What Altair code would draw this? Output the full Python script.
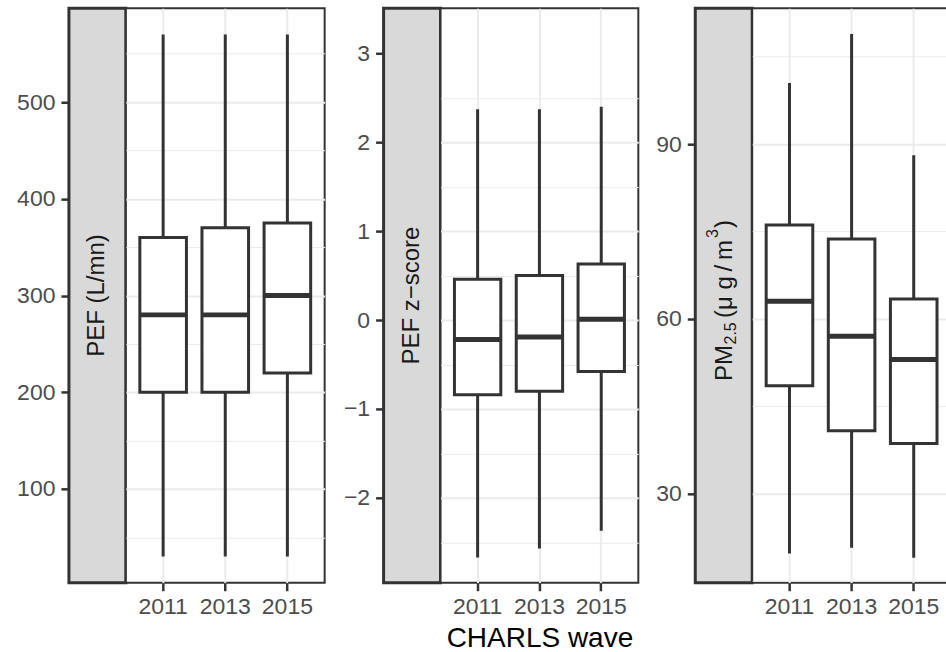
import altair as alt
import pandas as pd

waves = ["2011", "2013", "2015"]

# PEF (L/mn): whisker low, Q1, median, Q3, whisker high
pef_low = [30, 30, 30]
pef_q1 = [200, 200, 220]
pef_med = [280, 280, 300]
pef_q3 = [360, 370, 375]
pef_high = [570, 570, 570]

# PEF z-score
z_low = [-2.67, -2.57, -2.37]
z_q1 = [-0.84, -0.80, -0.58]
z_med = [-0.22, -0.19, 0.01]
z_q3 = [0.46, 0.50, 0.63]
z_high = [2.37, 2.37, 2.40]

# PM2.5
pm_low = [19.7, 20.7, 19.0]
pm_q1 = [48.5, 40.8, 38.6]
pm_med = [63.0, 57.0, 53.0]
pm_q3 = [76.1, 73.7, 63.4]
pm_high = [100.5, 108.9, 88.1]

strip_labels = ["PEF (L/mn)", "PEF z\u2212score"]
# PM2.5 label pieces: text, font size, offset along the text, baseline shift
pm_label_text = ["PM", "2.5", "(\u03bc g\u2009/\u2009m", "3", ")"]
pm_label_size = [24, 16, 24, 16, 24]
pm_label_dx = [0, 36.5, 63, 143, 153]
pm_label_dy = [0, 4, 0, -14, 0]

pef_domain = [3, 597]
z_domain = [-2.955, 3.506]
pm_domain = [14.7, 113.3]

pef_ticks = [100, 200, 300, 400, 500]
z_ticks = [-2, -1, 0, 1, 2, 3]
pm_ticks = [30, 60, 90]

pef_grid = [50, 100, 150, 200, 250, 300, 350, 400, 450, 500, 550]
z_grid = [-2.5, -2, -1.5, -1, -0.5, 0, 0.5, 1, 1.5, 2, 2.5]
pm_grid = [15, 30, 45, 60, 75, 90, 105]

DARK = "#333333"
FONT = "Liberation Sans"
H = 575
STRIP_W = 57


def strip_text_layers(label):
    if label is not None:
        return [alt.Chart(pd.DataFrame({"label": [label]})).mark_text(
            angle=270, fontSize=24, color="#1a1a1a", font=FONT).encode(
            text="label:N", x=alt.value(STRIP_W / 2), y=alt.value(H / 2))]
    layers = []
    for t, fs, dx, dy in zip(pm_label_text, pm_label_size, pm_label_dx, pm_label_dy):
        layers.append(alt.Chart(pd.DataFrame({"label": [t]})).mark_text(
            angle=270, fontSize=fs, color="#1a1a1a", font=FONT, align="left",
            baseline="alphabetic", dx=dx, dy=dy).encode(
            text="label:N", x=alt.value(36.5), y=alt.value(373)))
    return layers


def panel(low, q1, med, q3, high, domain, ticks, grid, major_test, label, box_w,
          extent=None, title=None):
    df = pd.DataFrame({"wave": waves, "low": low, "q1": q1, "med": med, "q3": q3, "high": high})
    yscale = alt.Scale(domain=domain, nice=False, zero=False)

    axis_kw = dict(values=ticks, format="d", grid=False, domain=False, ticks=True,
                   tickSize=8, tickWidth=2.5, tickColor=DARK, labelFontSize=23,
                   labelColor="#4d4d4d", labelPadding=6, title=None)
    if extent is not None:
        axis_kw.update(minExtent=extent, maxExtent=extent)
    strip_axis = alt.Axis(**axis_kw)
    base_strip = alt.Chart(df).mark_rule(opacity=0).encode(
        y=alt.Y("high:Q", scale=yscale, axis=strip_axis))
    strip = alt.layer(base_strip, *strip_text_layers(label)).properties(
        width=STRIP_W, height=H,
        view=alt.ViewBackground(fill="#d9d9d9", stroke=DARK, strokeWidth=3))

    xaxis_kw = dict(labelAngle=0, bandPosition=0.5, grid=True, gridColor="#ebebeb", gridWidth=2,
                    domain=False, ticks=True, tickSize=8, tickWidth=2.5, tickColor=DARK,
                    labelFontSize=23, labelColor="#4d4d4d", labelPadding=4.5,
                    title=title)
    if title is not None:
        xaxis_kw.update(titleFontSize=28, titleColor="black", titleFontWeight="normal",
                        titlePadding=6)
    x = alt.X("wave:N", scale=alt.Scale(type="band", paddingInner=0.25, paddingOuter=0.225),
              axis=alt.Axis(**xaxis_kw))
    yaxis = alt.Axis(values=grid, grid=True, gridColor="#ebebeb",
                     gridWidth={"condition": {"test": major_test, "value": 2}, "value": 1},
                     labels=False, ticks=False, domain=False, title=None,
                     minExtent=0, maxExtent=0)
    whisk = alt.Chart(df).mark_rule(color=DARK, strokeWidth=3).encode(
        x=x, y=alt.Y("low:Q", scale=yscale, axis=yaxis), y2="high:Q")
    box = alt.Chart(df).mark_bar(fill="white", stroke=DARK, strokeWidth=3).encode(
        x=x, y=alt.Y("q1:Q"), y2="q3:Q")
    medm = alt.Chart(df).mark_tick(color=DARK, size=47, thickness=5, opacity=1).encode(
        x=x, y=alt.Y("med:Q"))
    boxc = alt.layer(whisk, box, medm).properties(
        width=box_w, height=H,
        view=alt.ViewBackground(fill="white", stroke=DARK, strokeWidth=2))
    return strip, boxc


def spacer(w):
    return alt.Chart(pd.DataFrame({"v": [0]})).mark_point(opacity=0).encode(
        x=alt.value(w / 2), y=alt.value(H / 2)).properties(
        width=w, height=H, view=alt.ViewBackground(stroke="transparent"))


s1, b1 = panel(pef_low, pef_q1, pef_med, pef_q3, pef_high, pef_domain, pef_ticks, pef_grid,
               "datum.value % 100 === 0", strip_labels[0], 199, extent=54)
s2, b2 = panel(z_low, z_q1, z_med, z_q3, z_high, z_domain, z_ticks, z_grid,
               "datum.value % 1 === 0", strip_labels[1], 198, title="CHARLS wave")
s3, b3 = panel(pm_low, pm_q1, pm_med, pm_q3, pm_high, pm_domain, pm_ticks, pm_grid,
               "datum.value % 30 === 0", None, 199)

chart = alt.hconcat(s1, b1, spacer(59), s2, b2, spacer(57), s3, b3,
                    spacing=0, bounds="flush").properties(
    padding={"left": 13, "top": 6, "right": -6, "bottom": 0}
).configure(font=FONT)

chart.save("out.html", embed_options={"renderer": "svg", "actions": False})
